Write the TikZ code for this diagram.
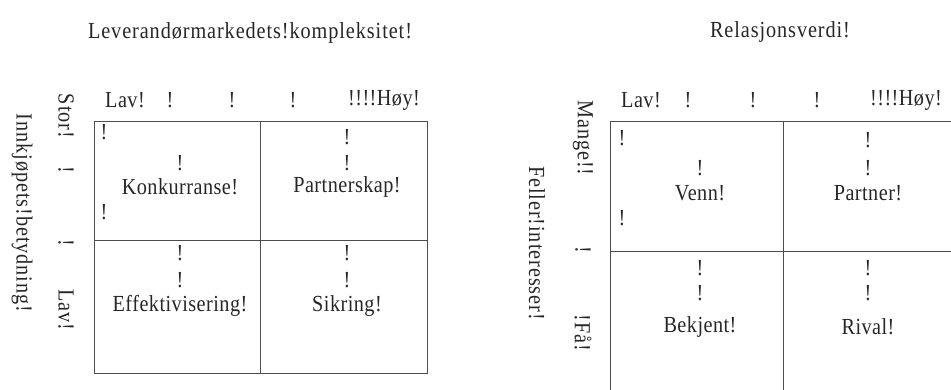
\documentclass[tikz,border=0pt]{standalone}
\usepackage{fontspec}
\setmainfont{Liberation Serif}[FakeStretch=0.88, LetterSpace=2]
\newfontfamily\widefont{Liberation Serif}[FakeStretch=0.88, LetterSpace=4]
\begin{document}
\begin{tikzpicture}[x=1pt,y=-1pt,
  lbl/.style={font=\fontsize{23}{27}\selectfont, inner sep=0pt, text=black!85},
  ttl/.style={lbl, font=\widefont\fontsize{23}{27}\selectfont},
  vlbl/.style={lbl, font=\widefont\fontsize{23}{27}\selectfont, rotate=-90},
  gridline/.style={draw=black!70, line width=0.8pt}]
\useasboundingbox (0,0) rectangle (951,390);
\clip (0,0) rectangle (951,390);

% ---------- left matrix: Leverandoermarkedets kompleksitet ----------
\coordinate (lTL) at (94,121);
\coordinate (lBR) at (427,373);
\draw[gridline] (lTL) rectangle (lBR);
\draw[gridline] (260,121) -- (260,373);
\draw[gridline] (94,240) -- (427,240);

\node[ttl] (ltitle) at (250,33) {Leverandørmarkedets!kompleksitet!};
\node[lbl] (lx1) at (125,100) {Lav!};
\node[lbl] (lx2) at (170,100) {!};
\node[lbl] (lx3) at (232,100) {!};
\node[lbl] (lx4) at (293,100) {!};
\node[lbl] (lx5) at (384,100) {!!!!Høy!};

\node[vlbl] (laxis) at (22,213) {Innkjøpets!betydning!};
\node[vlbl] (ly1) at (66,116) {Stor!};
\node[vlbl] (ly2) at (66,170) {!};
\node[vlbl] (ly3) at (66,243) {!};
\node[vlbl] (ly4) at (66,310) {Lav!};

\node[lbl] (k1) at (104,132) {!};
\node[lbl] (k2) at (180,163) {!};
\node[lbl] (k3) at (180,187) {Konkurranse!};
\node[lbl] (k4) at (104,212) {!};

\node[lbl] (p1) at (347,137) {!};
\node[lbl] (p2) at (347,163) {!};
\node[lbl] (p3) at (347,187) {Partnerskap!};

\node[lbl] (e1) at (180,253) {!};
\node[lbl] (e2) at (180,280) {!};
\node[lbl] (e3) at (180,306) {Effektivisering!};

\node[lbl] (s1) at (347,253) {!};
\node[lbl] (s2) at (347,280) {!};
\node[lbl] (s3) at (347,306) {Sikring!};

% ---------- right matrix: Relasjonsverdi (runs past the page edge) ----------
\coordinate (rTL) at (610,121);
\draw[gridline] (610,400) -- (rTL) -- (960,121);
\draw[gridline] (783,121) -- (783,400);
\draw[gridline] (610,251) -- (960,251);

\node[ttl] (rtitle) at (780,32) {Relasjonsverdi!};
\node[lbl] (rx1) at (641,100) {Lav!};
\node[lbl] (rx2) at (688,100) {!};
\node[lbl] (rx3) at (753,100) {!};
\node[lbl] (rx4) at (817,100) {!};
\node[lbl] (rx5) at (906,100) {!!!!Høy!};

\node[vlbl] (raxis) at (537,243) {Feller!interesser!};
\node[vlbl] (ry1) at (583,138) {Mange!!};
\node[vlbl] (ry2) at (583,250) {!};
\node[vlbl] (ry3) at (583,333) {!Få!};

\node[lbl] (v1) at (622,138) {!};
\node[lbl] (v2) at (700,168) {!};
\node[lbl] (v3) at (700,193) {Venn!};
\node[lbl] (v4) at (622,218) {!};

\node[lbl] (pa1) at (868,140) {!};
\node[lbl] (pa2) at (868,168) {!};
\node[lbl] (pa3) at (868,193) {Partner!};

\node[lbl] (b1) at (700,268) {!};
\node[lbl] (b2) at (700,293) {!};
\node[lbl] (b3) at (700,327) {Bekjent!};

\node[lbl] (ri1) at (868,268) {!};
\node[lbl] (ri2) at (868,293) {!};
\node[lbl] (ri3) at (868,327) {Rival!};
\end{tikzpicture}
\end{document}
